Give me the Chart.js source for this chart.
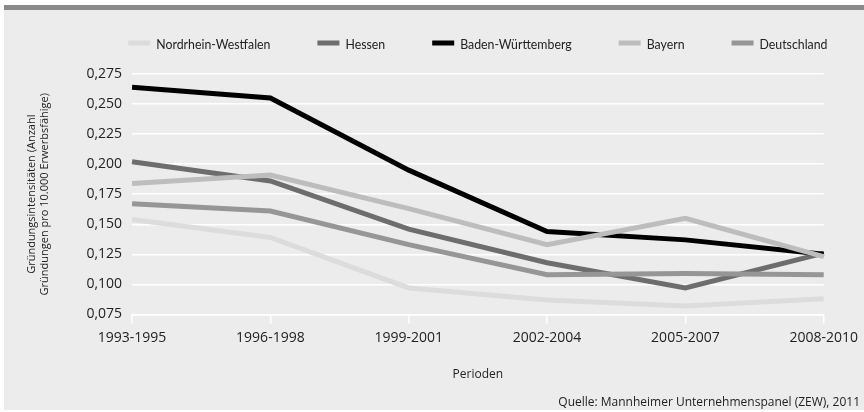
<!DOCTYPE html>
<html>
<head>
<meta charset="utf-8">
<script src="https://cdn.jsdelivr.net/npm/chart.js@4.4.0/dist/chart.umd.min.js"></script>
<style>
  html, body { margin: 0; padding: 0; background: #fff; }
  #wrap { width: 864px; height: 412px; }
</style>
</head>
<body>
<div id="wrap"><canvas id="chart" width="864" height="412"></canvas></div>
<script>
// data
const periods = ["1993-1995", "1996-1998", "1999-2001", "2002-2004", "2005-2007", "2008-2010"];
const nrw = [0.154, 0.139, 0.097, 0.087, 0.082, 0.088];
const hessen = [0.202, 0.186, 0.146, 0.118, 0.097, 0.126];
const bw = [0.264, 0.255, 0.195, 0.144, 0.137, 0.125];
const bayern = [0.184, 0.191, 0.163, 0.133, 0.155, 0.123];
const deutschland = [0.167, 0.161, 0.133, 0.108, 0.109, 0.108];
const seriesNames = ["Nordrhein-Westfalen", "Hessen", "Baden-Württemberg", "Bayern", "Deutschland"];
const seriesColors = ["#dcdcdc", "#6d6d6d", "#000000", "#bdbdbd", "#969696"];
const yTicks = [0.075, 0.1, 0.125, 0.15, 0.175, 0.2, 0.225, 0.25, 0.275];

const TEXT = "#222";
const SANS = "'Open Sans', sans-serif";
const fmtTick = (v) => v.toFixed(3).replace(".", ",");

// background panel + top rule
const backdrop = {
  id: "backdrop",
  beforeDraw(chart) {
    const c = chart.ctx;
    c.save();
    c.fillStyle = "#ffffff";
    c.fillRect(0, 0, chart.width, chart.height);
    c.fillStyle = "#ececec";
    c.fillRect(4, 10, chart.width - 4, 400);
    c.fillStyle = "#8a8a8a";
    c.fillRect(4, 5, chart.width - 4, 5);
    c.restore();
  }
};

// single-row legend, centred over the plot area (text squeezed a bit, the original is a condensed face)
const rowLegend = {
  id: "rowLegend",
  afterDraw(chart) {
    const c = chart.ctx;
    const area = chart.chartArea;
    const box = 22, boxH = 5, gapText = 6, gapItem = 47, y = 43, squeeze = 0.88;
    c.save();
    c.font = "14px Lato, sans-serif";
    c.textBaseline = "middle";
    const items = chart.data.datasets.map(ds => {
      const tw = c.measureText(ds.label).width * squeeze;
      return { ds, tw, w: box + gapText + tw };
    });
    const total = items.reduce((s, it) => s + it.w, 0) + gapItem * (items.length - 1);
    let x = (area.left + area.right) / 2 - total / 2;
    items.forEach(it => {
      c.fillStyle = it.ds.borderColor;
      c.fillRect(x, y - boxH / 2, box, boxH);
      c.fillStyle = TEXT;
      c.fillText(it.ds.label, x + box + gapText, y + 1, it.tw);
      x += it.w + gapItem;
    });
    c.restore();
  }
};

const allSeries = [nrw, hessen, bw, bayern, deutschland];

new Chart(document.getElementById("chart"), {
  type: "line",
  data: {
    labels: periods,
    datasets: allSeries.map((d, i) => ({
      label: seriesNames[i],
      data: d,
      borderColor: seriesColors[i],
      backgroundColor: seriesColors[i],
      borderWidth: 5,
      pointRadius: 0,
      tension: 0,
      fill: false,
      order: allSeries.length - i
    }))
  },
  options: {
    responsive: false,
    animation: false,
    devicePixelRatio: 1,
    layout: { padding: { left: 4, right: 4, top: 74, bottom: 2 } },
    plugins: {
      legend: { display: false },
      subtitle: {
        display: true,
        position: "bottom",
        align: "end",
        text: "Quelle: Mannheimer Unternehmenspanel (ZEW), 2011",
        color: TEXT,
        font: { family: SANS, size: 12, weight: "normal" },
        padding: { top: 3, bottom: 0 }
      },
      tooltip: { enabled: false }
    },
    scales: {
      x: {
        offset: false,
        grid: { display: true, drawOnChartArea: false, drawTicks: true, tickLength: 9, color: "#ffffff", lineWidth: 1.5 },
        border: { display: true, color: "#ffffff", width: 1.5 },
        ticks: { color: TEXT, padding: 6, maxRotation: 0, font: { family: SANS, size: 14 } },
        title: {
          display: true,
          text: "Perioden",
          color: TEXT,
          font: { family: SANS, size: 12 },
          padding: { top: 15, bottom: 11 }
        }
      },
      y: {
        min: 0.075,
        max: 0.275,
        afterBuildTicks: (axis) => { axis.ticks = yTicks.map(v => ({ value: v })); },
        grid: { color: "#ffffff", lineWidth: 1.5, drawTicks: false },
        border: { display: false },
        ticks: { color: TEXT, padding: 10, autoSkip: false, callback: (v) => fmtTick(v), font: { family: SANS, size: 14 } },
        title: {
          display: true,
          text: ["Gründungsintensitäten (Anzahl", "Gründungen pro 10.000 Erwerbsfähige)"],
          color: TEXT,
          font: { family: SANS, size: 11 },
          padding: { top: 21, bottom: 25 }
        }
      }
    }
  },
  plugins: [backdrop, rowLegend]
});
</script>
</body>
</html>
